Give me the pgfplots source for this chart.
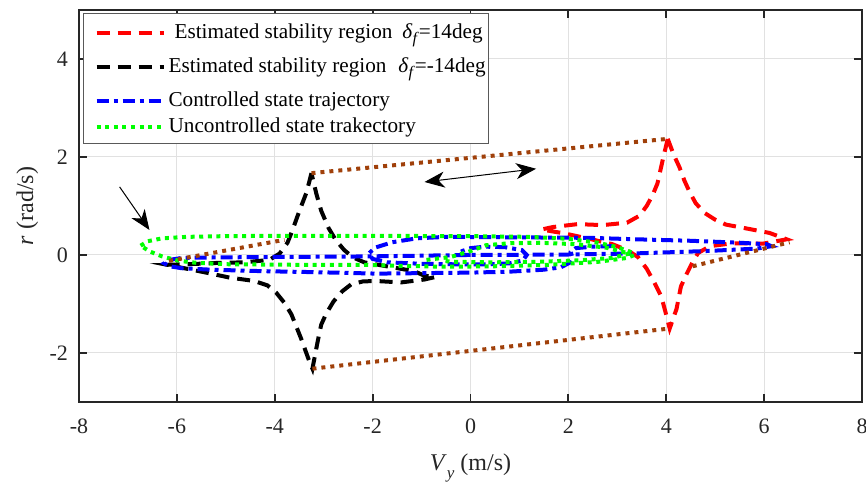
\documentclass[border=0pt]{standalone}
\usepackage{pgfplots}
\pgfplotsset{compat=1.18}
\usepackage{fontspec}
\setmainfont{Liberation Serif}
\usetikzlibrary{arrows.meta}
\definecolor{mybrown}{RGB}{160,64,10}
\definecolor{mygreen}{RGB}{0,255,0}
\definecolor{axgray}{RGB}{38,38,38}
\definecolor{gridgray}{RGB}{225,225,225}
\newcommand{\subf}{\raisebox{-2.5pt}{\fontsize{8}{9}\selectfont\textit{f}}}
\pgfplotsset{legbox/.style={legend image code/.code={\path[draw=none,fill=none] (0pt,-#1) rectangle (40pt,#1); \draw[##1] (6.5pt,0pt) -- (40pt,0pt);}}}
\begin{document}
\begin{tikzpicture}
\begin{axis}[
  at={(0,0)}, anchor=south west,
  scale only axis, width=391.5pt, height=196pt,
  xmin=-8, xmax=8, ymin=-3, ymax=5,
  xtick={-8,-6,-4,-2,0,2,4,6,8}, ytick={-2,0,2,4},
  xticklabels={-8,-6,-4,-2,0,2,4,6,8}, yticklabels={-2,0,2,4},
  grid=major, major grid style={gridgray, line width=0.5pt},
  tick align=inside, major tick length=4pt,
  axis line style={axgray, line width=0.9pt},
  tick style={axgray, line width=0.9pt},
  every tick label/.append style={font=\fontsize{11}{13}\selectfont, text=axgray},
  xticklabel style={yshift=-5pt},
  yticklabel style={xshift=-2pt},
  xlabel={\textit{V}\raisebox{-4pt}{\fontsize{8.5}{9}\selectfont\textit{y}} (m/s)},
  xlabel style={at={(axis description cs:0.5,-0.176)}, anchor=base, font=\fontsize{12}{14}\selectfont, text=axgray},
  ylabel={\textit{r} (rad/s)},
  ylabel style={at={(axis description cs:-0.0587,0.5)}, anchor=base, font=\fontsize{12}{14}\selectfont, text=axgray},
  unbounded coords=jump,
  legend style={at={(axis description cs:0,1)}, anchor=north west, xshift=2pt, yshift=-1.5pt,
    draw=black!65, line width=0.6pt, fill=white, font=\fontsize{10.6}{12}\selectfont,
    cells={anchor=west}, inner xsep=0pt, inner ysep=2.5pt, row sep=0pt,
    nodes={inner ysep=0pt, inner xsep=1.5pt}},
]
\addplot[red, line width=2pt, dash pattern=on 6.5pt off 4pt, legbox=7pt] coordinates {
(4.03,2.37) (4.15,2.05) (4.27,1.79) (4.37,1.52) (4.48,1.28) (4.6,1.06) (4.78,0.86) (5.0,0.72) (5.22,0.62) (5.7,0.53) (6.11,0.45) (6.46,0.32) (5.97,0.23) (5.36,0.24) (4.89,0.18) (4.65,0.04) (4.54,-0.14) (4.42,-0.38) (4.3,-0.64) (4.21,-1.1) (4.07,-1.5) (3.98,-1.15) (3.9,-0.85) (3.75,-0.55) (3.6,-0.28) (3.42,-0.04) (3.2,0.1) (2.9,0.22) (2.43,0.33) (1.92,0.44) (1.45,0.52) (1.68,0.57) (2.19,0.63) (2.7,0.61) (3.2,0.66) (3.45,0.8) (3.6,1.0) (3.72,1.22) (3.82,1.46) (3.93,1.95) (4.03,2.37)
};
\addlegendentry{\hspace{3pt}Estimated stability region\hspace{5pt}\textit{δ}\subf=14deg}
\addplot[black, line width=2pt, dash pattern=on 6.5pt off 4pt, legbox=10pt] coordinates {
(-3.25,1.67) (-3.35,1.28) (-3.45,1.02) (-3.54,0.78) (-3.64,0.5) (-3.74,0.25) (-3.9,0.03) (-4.11,-0.1) (-4.62,-0.15) (-5.13,-0.16) (-5.58,-0.18) (-6.2,-0.2) (-5.4,-0.36) (-4.93,-0.46) (-4.42,-0.53) (-4.15,-0.62) (-3.97,-0.77) (-3.8,-0.98) (-3.66,-1.21) (-3.46,-1.71) (-3.29,-2.18) (-3.23,-2.32) (-3.12,-1.75) (-3.05,-1.42) (-2.95,-1.2) (-2.8,-0.95) (-2.62,-0.74) (-2.44,-0.6) (-2.2,-0.54) (-1.94,-0.53) (-1.42,-0.56) (-0.94,-0.5) (-0.72,-0.45) (-0.95,-0.42) (-1.15,-0.33) (-1.66,-0.24) (-2.17,-0.15) (-2.4,-0.05) (-2.58,0.1) (-2.75,0.3) (-2.9,0.55) (-3.05,0.9) (-3.15,1.25) (-3.25,1.67)
};
\addlegendentry{Estimated stability region\hspace{6pt}\textit{δ}\subf=-14deg\hspace{6pt}}
\addplot[blue, line width=2pt, dash pattern=on 6pt off 2.5pt on 2pt off 2.5pt, legbox=7pt] coordinates {
(2.9,0.18) (2.5,0.17) (2.15,0.14) (2.05,0.06) (2.08,-0.05) (2.02,-0.16) (1.85,-0.25) (1.5,-0.3) (0.8,-0.34) (0,-0.36) (-1.92,-0.38) (-3.2,-0.35) (-4.25,-0.33) (-5.3,-0.3) (-5.9,-0.27) (-6.15,-0.23) (-6.26,-0.17) (-6.15,-0.1) (-5.9,-0.06) (-5.2,-0.05) (-4,-0.04) (-2.2,-0.03) (0,0.0) (2,0.01) (3.3,0.03) (4.8,0.08) (5.85,0.13) (6.15,0.18) (6.05,0.22) (5.5,0.25) (4.5,0.29) (3.4,0.32) (2.43,0.35) (1,0.36) (-0.5,0.37) (-1.1,0.34) (-1.6,0.26) (-1.95,0.15) (-2.08,0.03) (-2.0,-0.08) (-1.7,-0.15) (-1,-0.18) (-0.3,-0.19) (0.4,-0.19) (0.8,-0.17) (1.07,-0.11) (1.15,0.0) (1.05,0.1) (0.7,0.16) (0.3,0.17) (0,0.14) (-0.2,0.07) (-0.1,0.0) (0,0)
};
\addlegendentry{Controlled state trajectory}
\addplot[mygreen, line width=2pt, dash pattern=on 2pt off 2.3pt, legbox=6pt] coordinates {
(-6.74,0.19) (-6.6,0.28) (-6.3,0.34) (-5.8,0.37) (-5,0.385) (-4,0.39) (-2,0.39) (0,0.385) (1.2,0.37) (2.0,0.33) (2.6,0.25) (3.0,0.16) (3.3,0.05) (3.35,0.0) (3.2,-0.06) (2.6,-0.14) (1.6,-0.2) (0.5,-0.23) (-0.5,-0.24) (-1.5,-0.22) (-2.2,-0.2) (-3.56,-0.2) (-4.93,-0.19) (-5.6,-0.16) (-5.95,-0.12) (-6.3,-0.03) (-6.55,0.07) (-6.74,0.19)
};
\addlegendentry{Uncontrolled state trakectory}
\addplot[mygreen, line width=2pt, dash pattern=on 2pt off 2.3pt, forget plot] coordinates {
(-0.9,-0.1) (-0.4,-0.04) (0,0.08) (0.32,0.2) (0.8,0.24) (1.4,0.25) (2.16,0.22) (2.77,0.15) (3.25,0.03) (2.9,-0.06) (2.2,-0.11) (1.3,-0.14) (0.4,-0.15) (-0.3,-0.14) (-0.6,-0.12)
};
\addplot[mybrown, line width=2pt, dash pattern=on 2pt off 2.5pt, forget plot] coordinates {
(-3.25,1.67) (4.03,2.37) (nan,nan) (-3.23,-2.32) (4.07,-1.5) (nan,nan) (-6.16,-0.12) (-3.8,0.31) (nan,nan) (4.54,-0.23) (6.52,0.26)
};
\draw[-{Stealth[length=10pt,width=8pt,inset=3pt]}, line width=0.5pt] (axis cs:-7.17,1.39) -- (axis cs:-6.56,0.51);
\draw[{Stealth[length=10pt,width=8pt,inset=3pt]}-{Stealth[length=10pt,width=8pt,inset=3pt]}, line width=0.5pt] (axis cs:-0.94,1.49) -- (axis cs:1.34,1.76);
\end{axis}
\pgfresetboundingbox
\useasboundingbox (-39.5pt,-44pt) rectangle (393.5pt,201pt);
\end{tikzpicture}
\end{document}
